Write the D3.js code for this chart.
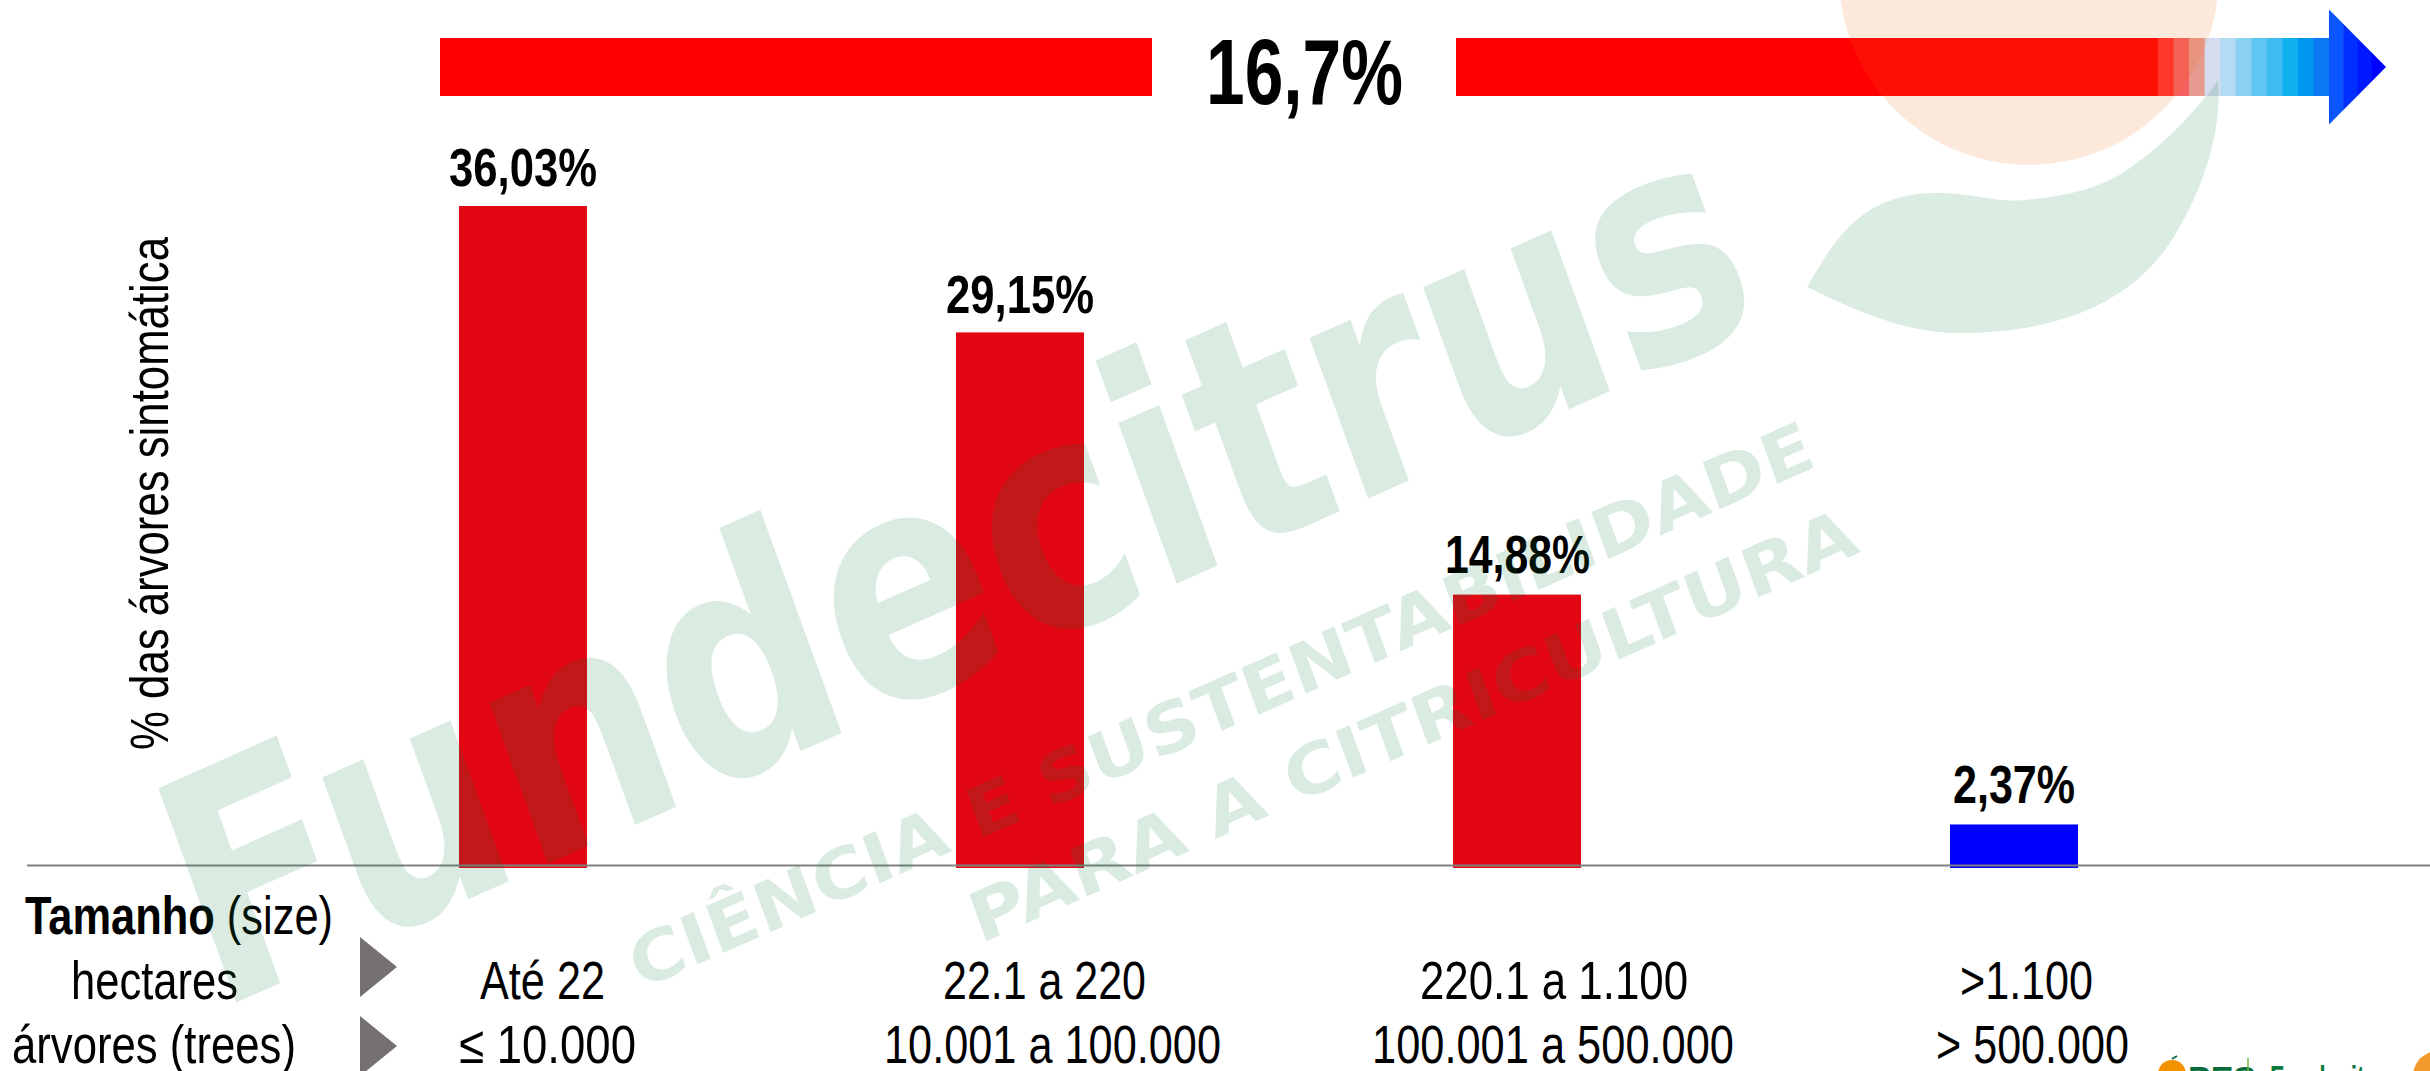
<!DOCTYPE html>
<html><head><meta charset="utf-8">
<script src="https://cdn.jsdelivr.net/npm/d3@7"></script>
<style>html,body{margin:0;padding:0;background:#fff;overflow:hidden}svg{display:block}text{font-family:"Liberation Sans Narrow","Liberation Sans",Arial,sans-serif}</style>
</head><body><svg id="c" width="2430" height="1071"></svg>
<script>
const categories=["Até 22","22.1 a 220","220.1 a 1.100",">1.100"];
const treeLabels=["≤ 10.000","10.001 a 100.000","100.001 a 500.000","> 500.000"];
const values=[36.03,29.15,14.88,2.37];
const valueLabels=["36,03%","29,15%","14,88%","2,37%"];
const barColors=["#e30613","#e30613","#e30613","#0000ff"];
const rampColors=["#ff2f2f","#f46060","#e79a90","#d4dcee","#b2dcf3","#8bd1f1","#5ec6f1","#3cbcf0","#0fb2ef","#0098ee","#0a78f5"];
const headColors=["#0a55ff","#0030ff","#0018ff","#0000ff"];

const svg=d3.select("#c");
const x=d3.scaleBand().domain(categories).range([459,2078]).paddingInner(0.7425).paddingOuter(0);
const y=d3.scaleLinear().domain([0,36.03]).range([868,206]);

// top arrow
const arrow=svg.append("g");
arrow.append("rect").attr("x",440).attr("y",38).attr("width",712).attr("height",58).attr("fill","#ff0000");
arrow.append("rect").attr("x",1456).attr("y",38).attr("width",702).attr("height",58).attr("fill","#ff0000");
const rampX=d3.scaleLinear().domain([0,rampColors.length]).range([2158,2329]);
arrow.selectAll("rect.r").data(rampColors).join("rect").attr("class","r")
 .attr("x",(d,i)=>rampX(i)).attr("y",38).attr("width",(d,i)=>rampX(i+1)-rampX(i)+.5).attr("height",58).attr("fill",d=>d);
const hx=d3.scaleLinear().domain([0,headColors.length]).range([2329,2386]);
svg.append("clipPath").attr("id","hd").append("path").attr("d","M2329,9.5L2386,67L2329,124.5Z");
arrow.append("g").attr("clip-path","url(#hd)").selectAll("rect").data(headColors).join("rect")
 .attr("x",(d,i)=>hx(i)).attr("y",9).attr("width",(d,i)=>hx(i+1)-hx(i)+.5).attr("height",116).attr("fill",d=>d);

function t(sel,str,x0,x1,base,size,opts={}){
 return sel.append("text").attr("x",x0).attr("y",base).attr("font-size",size)
  .attr("textLength",x1-x0).attr("lengthAdjust","spacingAndGlyphs")
  .attr("font-weight",opts.bold?"700":"400").attr("fill","#000").text(str);
}
t(svg,"16,7%",1206,1403,104,92,{bold:1});

// bars
svg.selectAll("rect.bar").data(values).join("rect").attr("class","bar")
 .attr("x",(d,i)=>x(categories[i])).attr("width",x.bandwidth())
 .attr("y",d=>y(d)).attr("height",d=>y(0)-y(d)).attr("fill",(d,i)=>barColors[i]);
// baseline
svg.append("line").attr("x1",27).attr("x2",2430).attr("y1",865.5).attr("y2",865.5).attr("stroke","#808080").attr("stroke-width",2);

// value labels
const vx=[[449,597,186],[946,1094,313],[1445,1590,573],[1953,2075,803]];
values.forEach((d,i)=>t(svg,valueLabels[i],vx[i][0],vx[i][1],vx[i][2],53,{bold:1}));

// y title
svg.append("text").attr("transform","translate(168,750) rotate(-90)").attr("font-size",53)
 .attr("textLength",513).attr("lengthAdjust","spacingAndGlyphs").text("% das árvores sintomática");

// left labels
const tam=svg.append("text").attr("x",25).attr("y",934).attr("font-size",53).attr("textLength",308).attr("lengthAdjust","spacingAndGlyphs");
tam.append("tspan").attr("font-weight",700).text("Tamanho");
tam.append("tspan").text(" (size)");
t(svg,"hectares",71,238,999,53);
t(svg,"árvores (trees)",12,296,1063,53);
svg.selectAll("path.tri").data([937,1016]).join("path").attr("class","tri")
 .attr("d",d=>`M360,${d}L397,${d+30}L360,${d+60}Z`).attr("fill","#767171");

// category labels
const cx=[[480,605],[943,1146],[1420,1688],[1960,2093]];
const tx=[[459,636],[884,1221],[1372,1734],[1936,2129]];
categories.forEach((c,i)=>t(svg,c,cx[i][0],cx[i][1],999,53));
treeLabels.forEach((c,i)=>t(svg,c,tx[i][0],tx[i][1],1063,53));

// small logo
const logo=svg.append("g");
logo.append("circle").attr("cx",2172).attr("cy",1074).attr("r",14).attr("fill","#f39200");
logo.append("path").attr("d","M2172,1059L2177,1056").attr("stroke","#0a6b3a").attr("stroke-width",2);
logo.append("text").attr("x",2188).attr("y",1090).attr("font-size",34).attr("font-weight",700).attr("fill","#0a6b3a").style("font-family","'Liberation Sans'").text("PES");
logo.append("line").attr("x1",2248).attr("x2",2248).attr("y1",1058).attr("y2",1071).attr("stroke","#7ab648").attr("stroke-width",1.5);
logo.append("text").attr("x",2270).attr("y",1089).attr("font-size",34).attr("font-weight",700).attr("fill","#0a7a3c").attr("textLength",130).attr("lengthAdjust","spacingAndGlyphs").style("font-family","'Liberation Sans'").text("Fundecitrus");
logo.append("circle").attr("cx",2438).attr("cy",1076).attr("r",25).attr("fill","#f39a2e");

// watermark on top
const wm=svg.append("g").style("pointer-events","none");
wm.append("circle").attr("cx",2029).attr("cy",-25).attr("r",190).attr("fill","#f16c16").attr("opacity",.15);
wm.append("path").attr("d","M1807,287C1835,240 1860,193 1938,193C1975,193 1995,203 2024,200C2060,197 2100,190 2130,168C2170,140 2205,100 2218,80C2222,130 2205,185 2175,235C2130,310 2045,333 1958,333C1900,333 1845,305 1807,287Z").attr("fill","#0f803e").attr("opacity",.15);
const wt=(s,xx,yy,ang,size,len,w)=>wm.append("text").attr("transform",`translate(${xx},${yy}) rotate(${ang}) skewX(-4)`)
 .attr("font-size",size).attr("font-weight",w).attr("textLength",len).attr("lengthAdjust","spacingAndGlyphs")
 .style("font-family","'DejaVu Sans',sans-serif").attr("fill","#0f803e").attr("opacity",.15).text(s);
wt("Fundecitrus",215,1012,-24,312,1700,700);
wt("CIÊNCIA E SUSTENTABILIDADE",640,990,-24,68,1290,700);
wt("PARA A CITRICULTURA",980,944,-24,68,965,700);
</script></body></html>
